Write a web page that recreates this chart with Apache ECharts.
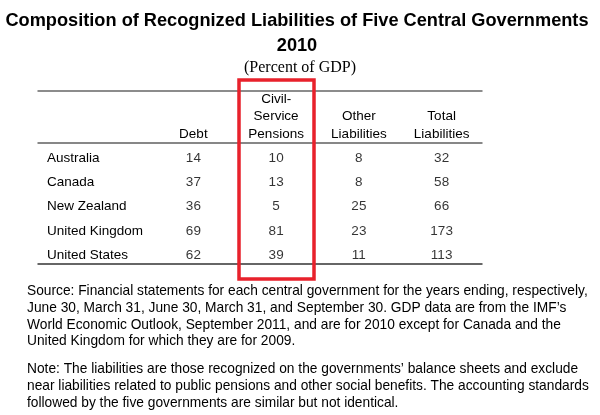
<!DOCTYPE html>
<html><head><meta charset="utf-8">
<script src="https://cdn.jsdelivr.net/npm/echarts@6/dist/echarts.min.js"></script>
<style>html,body{margin:0;padding:0;background:#fff}#c{width:600px;height:415px}</style>
</head><body><div id="c"></div>
<script>
var countries = ['Australia', 'Canada', 'New Zealand', 'United Kingdom', 'United States'];
var columns = ['Debt', 'Civil-\nService\nPensions', 'Other\nLiabilities', 'Total\nLiabilities'];
var debt = [14, 37, 36, 69, 62];
var pensions = [10, 13, 5, 81, 39];
var otherLiab = [8, 8, 25, 23, 11];
var totalLiab = [32, 58, 66, 173, 113];
var titleText = 'Composition of Recognized Liabilities of Five Central Governments';
var yearText = '2010';
var unitText = '(Percent of GDP)';
var sourceLines = [
  'Source: Financial statements for each central government for the years ending, respectively,',
  'June 30, March 31, June 30, March 31, and September 30. GDP data are from the IMF\u2019s',
  'World Economic Outlook, September 2011, and are for 2010 except for Canada and the',
  'United Kingdom for which they are for 2009.'
];
var noteLines = [
  'Note: The liabilities are those recognized on the governments\u2019 balance sheets and exclude',
  'near liabilities related to public pensions and other social benefits. The accounting standards',
  'followed by the five governments are similar but not identical.'
];

var FONT = '"Liberation Sans", Arial, sans-serif';
var cols = [debt, pensions, otherLiab, totalLiab];
var series = cols.map(function (vals, k) {
  return {
    type: 'scatter', symbolSize: 0, silent: true,
    data: countries.map(function (c, i) { return [columns[k], c, vals[i]]; }),
    label: { show: true, position: 'inside', formatter: function (p) { return p.value[2]; },
      color: '#000', fontFamily: FONT, fontSize: 13.5 }
  };
});

var graphics = [
  { type: 'text', x: 297, y: 21, style: { text: titleText, font: 'bold 18.2px ' + FONT, fill: '#000', align: 'center', verticalAlign: 'middle' } },
  { type: 'text', x: 297, y: 46, style: { text: yearText, font: 'bold 18.2px ' + FONT, fill: '#000', align: 'center', verticalAlign: 'middle' } },
  { type: 'text', x: 300, y: 68, style: { text: unitText, font: '16px "Liberation Serif", "Times New Roman", serif', fill: '#000', align: 'center', verticalAlign: 'middle' } },
  { type: 'line', shape: { x1: 37.5, y1: 91, x2: 482.5, y2: 91 }, style: { stroke: '#666', lineWidth: 1.5 } },
  { type: 'line', shape: { x1: 37.5, y1: 143, x2: 482.5, y2: 143 }, style: { stroke: '#111', lineWidth: 1.2 } },
  { type: 'line', shape: { x1: 37.5, y1: 264, x2: 482.5, y2: 264 }, style: { stroke: '#333', lineWidth: 1.5 } },
  { type: 'rect', shape: { x: 239, y: 80, width: 75, height: 199 }, style: { stroke: '#e8212b', fill: null, lineWidth: 3.5 }, z: 10 }
];
sourceLines.forEach(function (t, i) {
  graphics.push({ type: 'text', x: 27, y: 291 + i * 16.9, style: { text: t, font: '13.75px ' + FONT, fill: '#000', verticalAlign: 'middle' } });
});
noteLines.forEach(function (t, i) {
  graphics.push({ type: 'text', x: 27, y: 369 + i * 17, style: { text: t, font: '13.75px ' + FONT, fill: '#000', verticalAlign: 'middle' } });
});

var chart = echarts.init(document.getElementById('c'), null, { renderer: 'canvas' });
chart.setOption({
  animation: false,
  backgroundColor: '#fff',
  grid: { left: 152, width: 331, top: 146, height: 121.5 },
  xAxis: {
    type: 'category', data: columns, position: 'top',
    axisLine: { show: false }, axisTick: { show: false }, splitLine: { show: false },
    axisLabel: { interval: 0, margin: 3, verticalAlign: 'bottom', lineHeight: 17.5, color: '#000', fontFamily: FONT, fontSize: 13.5 }
  },
  yAxis: {
    type: 'category', data: countries, inverse: true,
    axisLine: { show: false }, axisTick: { show: false }, splitLine: { show: false },
    axisLabel: { interval: 0, align: 'left', margin: 105, color: '#000', fontFamily: FONT, fontSize: 13.5 }
  },
  series: series,
  graphic: graphics
});
</script></body></html>
